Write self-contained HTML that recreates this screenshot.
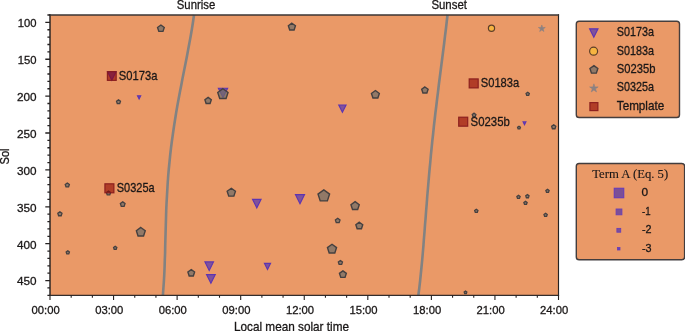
<!DOCTYPE html>
<html lang="en"><head><meta charset="utf-8"><title>Sol vs local mean solar time</title>
<style>html,body{margin:0;padding:0;background:#fff;}body{width:685px;height:331px;overflow:hidden;}</style></head>
<body>
<svg width="685" height="331" viewBox="0 0 685 331" style="display:block">
<rect x="0" y="0" width="685" height="331" fill="#fff"/>
<rect x="50.0" y="15.0" width="508.50" height="280.30" fill="#ea9967"/>
<path d="M194.0,15.0 L193.0,22.0 L191.9,29.0 L190.7,36.0 L189.4,43.0 L188.1,50.0 L186.8,57.0 L185.4,64.0 L184.0,71.0 L182.6,78.0 L181.3,85.0 L179.9,92.0 L178.6,99.0 L177.3,106.0 L176.1,113.0 L175.0,120.0 L173.9,127.0 L172.9,134.0 L171.9,141.0 L171.0,148.0 L170.2,155.0 L169.5,162.0 L168.8,169.0 L168.2,176.0 L167.7,183.0 L167.3,190.0 L166.9,197.0 L166.5,204.0 L166.2,211.0 L166.0,218.0 L165.8,225.0 L165.6,232.0 L165.4,239.0 L165.2,246.0 L165.1,253.0 L164.8,260.0 L164.6,267.0 L164.3,274.0 L163.9,281.0 L163.4,288.0 L162.9,295.0 L162.8,295.3" fill="none" stroke="#828282" stroke-width="2.6" stroke-linejoin="round"/>
<path d="M447.5,15.0 L446.7,22.0 L445.9,29.0 L445.0,36.0 L444.2,43.0 L443.3,50.0 L442.4,57.0 L441.5,64.0 L440.6,71.0 L439.7,78.0 L438.8,85.0 L438.0,92.0 L437.1,99.0 L436.3,106.0 L435.4,113.0 L434.6,120.0 L433.8,127.0 L433.1,134.0 L432.3,141.0 L431.6,148.0 L430.9,155.0 L430.3,162.0 L429.6,169.0 L429.0,176.0 L428.4,183.0 L427.8,190.0 L427.2,197.0 L426.7,204.0 L426.1,211.0 L425.6,218.0 L425.0,225.0 L424.5,232.0 L423.9,239.0 L423.4,246.0 L422.8,253.0 L422.2,260.0 L421.5,267.0 L420.8,274.0 L420.1,281.0 L419.3,288.0 L418.4,295.0 L418.4,295.3" fill="none" stroke="#828282" stroke-width="2.6" stroke-linejoin="round"/>
<polygon points="218.39,88.29 227.61,88.29 223.00,97.51" fill="#80529a" stroke="#5c34b2" stroke-width="1.15" stroke-linejoin="miter"/>
<polygon points="107.60,71.70 116.00,71.70 111.80,80.10" fill="#80529a" stroke="#5c34b2" stroke-width="1.15" stroke-linejoin="miter"/>
<polygon points="160.90,25.01 164.25,27.45 162.97,31.38 158.83,31.38 157.55,27.45" fill="#706c68" fill-opacity="0.72" stroke="#454040" stroke-width="1.4" stroke-linejoin="miter"/>
<polygon points="291.90,23.22 295.45,25.80 294.09,29.97 289.71,29.97 288.35,25.80" fill="#706c68" fill-opacity="0.72" stroke="#454040" stroke-width="1.4" stroke-linejoin="miter"/>
<polygon points="118.50,99.82 120.48,101.26 119.72,103.58 117.28,103.58 116.52,101.26" fill="#706c68" fill-opacity="0.72" stroke="#454040" stroke-width="1.3" stroke-linejoin="miter"/>
<polygon points="208.10,97.35 211.30,99.68 210.08,103.44 206.12,103.44 204.90,99.68" fill="#706c68" fill-opacity="0.72" stroke="#454040" stroke-width="1.4" stroke-linejoin="miter"/>
<polygon points="222.90,88.70 228.05,92.44 226.08,98.50 219.72,98.50 217.75,92.44" fill="#706c68" fill-opacity="0.72" stroke="#454040" stroke-width="1.4" stroke-linejoin="miter"/>
<polygon points="375.40,90.54 379.35,93.41 377.84,98.05 372.96,98.05 371.45,93.41" fill="#706c68" fill-opacity="0.72" stroke="#454040" stroke-width="1.4" stroke-linejoin="miter"/>
<polygon points="424.90,86.95 428.10,89.28 426.88,93.04 422.92,93.04 421.70,89.28" fill="#706c68" fill-opacity="0.72" stroke="#454040" stroke-width="1.4" stroke-linejoin="miter"/>
<polygon points="527.70,92.25 529.33,93.43 528.70,95.34 526.70,95.34 526.07,93.43" fill="#706c68" fill-opacity="0.72" stroke="#454040" stroke-width="1.3" stroke-linejoin="miter"/>
<polygon points="474.10,113.16 475.93,114.49 475.23,116.63 472.97,116.63 472.27,114.49" fill="#706c68" fill-opacity="0.72" stroke="#454040" stroke-width="1.3" stroke-linejoin="miter"/>
<polygon points="519.00,126.24 520.43,127.28 519.88,128.95 518.12,128.95 517.57,127.28" fill="#706c68" fill-opacity="0.72" stroke="#454040" stroke-width="1.3" stroke-linejoin="miter"/>
<polygon points="553.70,124.83 555.78,126.33 554.98,128.77 552.42,128.77 551.62,126.33" fill="#706c68" fill-opacity="0.72" stroke="#454040" stroke-width="1.3" stroke-linejoin="miter"/>
<polygon points="67.30,183.03 69.38,184.53 68.58,186.97 66.02,186.97 65.22,184.53" fill="#706c68" fill-opacity="0.72" stroke="#454040" stroke-width="1.3" stroke-linejoin="miter"/>
<polygon points="108.50,190.93 110.58,192.43 109.78,194.87 107.22,194.87 106.42,192.43" fill="#706c68" fill-opacity="0.72" stroke="#454040" stroke-width="1.3" stroke-linejoin="miter"/>
<polygon points="122.70,201.89 125.03,203.58 124.14,206.31 121.26,206.31 120.37,203.58" fill="#706c68" fill-opacity="0.72" stroke="#454040" stroke-width="1.3" stroke-linejoin="miter"/>
<polygon points="59.90,211.83 61.98,213.33 61.18,215.77 58.62,215.77 57.82,213.33" fill="#706c68" fill-opacity="0.72" stroke="#454040" stroke-width="1.3" stroke-linejoin="miter"/>
<polygon points="140.80,227.47 145.25,230.70 143.55,235.93 138.05,235.93 136.35,230.70" fill="#706c68" fill-opacity="0.72" stroke="#454040" stroke-width="1.4" stroke-linejoin="miter"/>
<polygon points="67.80,250.75 69.43,251.93 68.80,253.84 66.80,253.84 66.17,251.93" fill="#706c68" fill-opacity="0.72" stroke="#454040" stroke-width="1.3" stroke-linejoin="miter"/>
<polygon points="115.20,246.25 116.83,247.43 116.20,249.34 114.20,249.34 113.57,247.43" fill="#706c68" fill-opacity="0.72" stroke="#454040" stroke-width="1.3" stroke-linejoin="miter"/>
<polygon points="191.25,269.61 194.60,272.05 193.32,275.98 189.18,275.98 187.90,272.05" fill="#706c68" fill-opacity="0.72" stroke="#454040" stroke-width="1.4" stroke-linejoin="miter"/>
<polygon points="231.30,188.25 235.45,191.27 233.86,196.14 228.74,196.14 227.15,191.27" fill="#706c68" fill-opacity="0.72" stroke="#454040" stroke-width="1.4" stroke-linejoin="miter"/>
<polygon points="323.80,189.88 329.60,194.09 327.38,200.91 320.22,200.91 318.00,194.09" fill="#706c68" fill-opacity="0.72" stroke="#454040" stroke-width="1.4" stroke-linejoin="miter"/>
<polygon points="355.10,201.65 359.25,204.67 357.66,209.54 352.54,209.54 350.95,204.67" fill="#706c68" fill-opacity="0.72" stroke="#454040" stroke-width="1.4" stroke-linejoin="miter"/>
<polygon points="337.70,218.29 340.03,219.98 339.14,222.71 336.26,222.71 335.37,219.98" fill="#706c68" fill-opacity="0.72" stroke="#454040" stroke-width="1.3" stroke-linejoin="miter"/>
<polygon points="359.30,222.22 362.75,224.72 361.43,228.78 357.17,228.78 355.85,224.72" fill="#706c68" fill-opacity="0.72" stroke="#454040" stroke-width="1.4" stroke-linejoin="miter"/>
<polygon points="332.00,244.27 336.55,247.58 334.81,252.93 329.19,252.93 327.45,247.58" fill="#706c68" fill-opacity="0.72" stroke="#454040" stroke-width="1.4" stroke-linejoin="miter"/>
<polygon points="340.40,260.53 342.48,262.03 341.68,264.47 339.12,264.47 338.32,262.03" fill="#706c68" fill-opacity="0.72" stroke="#454040" stroke-width="1.3" stroke-linejoin="miter"/>
<polygon points="342.90,270.82 346.35,273.32 345.03,277.38 340.77,277.38 339.45,273.32" fill="#706c68" fill-opacity="0.72" stroke="#454040" stroke-width="1.4" stroke-linejoin="miter"/>
<polygon points="465.50,291.14 466.83,292.10 466.32,293.66 464.68,293.66 464.17,292.10" fill="#706c68" fill-opacity="0.72" stroke="#454040" stroke-width="1.3" stroke-linejoin="miter"/>
<polygon points="547.50,189.35 549.13,190.53 548.50,192.44 546.50,192.44 545.87,190.53" fill="#706c68" fill-opacity="0.72" stroke="#454040" stroke-width="1.3" stroke-linejoin="miter"/>
<polygon points="518.50,195.35 520.13,196.53 519.50,198.44 517.50,198.44 516.87,196.53" fill="#706c68" fill-opacity="0.72" stroke="#454040" stroke-width="1.3" stroke-linejoin="miter"/>
<polygon points="527.40,194.65 529.03,195.83 528.40,197.74 526.40,197.74 525.77,195.83" fill="#706c68" fill-opacity="0.72" stroke="#454040" stroke-width="1.3" stroke-linejoin="miter"/>
<polygon points="525.50,201.35 527.13,202.53 526.50,204.44 524.50,204.44 523.87,202.53" fill="#706c68" fill-opacity="0.72" stroke="#454040" stroke-width="1.3" stroke-linejoin="miter"/>
<polygon points="476.30,209.25 477.93,210.43 477.30,212.34 475.30,212.34 474.67,210.43" fill="#706c68" fill-opacity="0.72" stroke="#454040" stroke-width="1.3" stroke-linejoin="miter"/>
<polygon points="545.60,213.25 547.23,214.43 546.60,216.34 544.60,216.34 543.97,214.43" fill="#706c68" fill-opacity="0.72" stroke="#454040" stroke-width="1.3" stroke-linejoin="miter"/>
<polygon points="137.53,95.83 140.67,95.83 139.10,98.97" fill="#80529a" stroke="#5c34b2" stroke-width="1.15" stroke-linejoin="miter"/>
<polygon points="338.75,104.95 346.05,104.95 342.40,112.25" fill="#80529a" stroke="#5c34b2" stroke-width="1.15" stroke-linejoin="miter"/>
<polygon points="523.11,121.91 525.89,121.91 524.50,124.69" fill="#80529a" stroke="#5c34b2" stroke-width="1.15" stroke-linejoin="miter"/>
<polygon points="252.54,199.34 261.06,199.34 256.80,207.86" fill="#80529a" stroke="#5c34b2" stroke-width="1.15" stroke-linejoin="miter"/>
<polygon points="295.48,194.68 304.52,194.68 300.00,203.72" fill="#80529a" stroke="#5c34b2" stroke-width="1.15" stroke-linejoin="miter"/>
<polygon points="204.94,261.94 213.46,261.94 209.20,270.46" fill="#80529a" stroke="#5c34b2" stroke-width="1.15" stroke-linejoin="miter"/>
<polygon points="206.55,274.55 215.25,274.55 210.90,283.25" fill="#80529a" stroke="#5c34b2" stroke-width="1.15" stroke-linejoin="miter"/>
<polygon points="264.45,263.35 270.55,263.35 267.50,269.44" fill="#80529a" stroke="#5c34b2" stroke-width="1.15" stroke-linejoin="miter"/>
<circle cx="491.5" cy="28.3" r="3.1" fill="#f6b441" stroke="#5e3f28" stroke-width="1.2"/>
<polygon points="541.80,24.97 542.61,27.48 545.25,27.48 543.12,29.03 543.93,31.53 541.80,29.99 539.67,31.53 540.48,29.03 538.35,27.48 540.99,27.48" fill="#8b8182" stroke="#8b8182" stroke-width="0.6" stroke-linejoin="miter"/>
<rect x="107.40" y="71.60" width="8.80" height="8.80" fill="#8e0500" fill-opacity="0.62" stroke="#861a1c" stroke-opacity="0.9" stroke-width="1.2"/>
<rect x="469.20" y="78.90" width="9.00" height="9.00" fill="#8e0500" fill-opacity="0.62" stroke="#861a1c" stroke-opacity="0.9" stroke-width="1.2"/>
<rect x="458.70" y="117.20" width="9.00" height="9.00" fill="#8e0500" fill-opacity="0.62" stroke="#861a1c" stroke-opacity="0.9" stroke-width="1.2"/>
<rect x="104.90" y="183.80" width="9.00" height="9.00" fill="#8e0500" fill-opacity="0.62" stroke="#861a1c" stroke-opacity="0.9" stroke-width="1.2"/>
<path d="M50.0,14.35V295.90" stroke="#262222" stroke-width="1.45" fill="none"/>
<path d="M558.5,14.35V295.90" stroke="#262222" stroke-width="1.15" fill="none"/>
<path d="M49.30,15.0H559.05" stroke="#3a3433" stroke-width="1.3" fill="none"/>
<path d="M49.30,295.3H559.05" stroke="#322d2c" stroke-width="1.2" fill="none"/>
<path d="M47.40,15.00H50.00M45.30,22.38H50.00M47.40,29.75H50.00M47.40,37.13H50.00M47.40,44.51H50.00M47.40,51.88H50.00M45.30,59.26H50.00M47.40,66.63H50.00M47.40,74.01H50.00M47.40,81.39H50.00M47.40,88.76H50.00M45.30,96.14H50.00M47.40,103.52H50.00M47.40,110.89H50.00M47.40,118.27H50.00M47.40,125.64H50.00M45.30,133.02H50.00M47.40,140.40H50.00M47.40,147.77H50.00M47.40,155.15H50.00M47.40,162.53H50.00M45.30,169.90H50.00M47.40,177.28H50.00M47.40,184.66H50.00M47.40,192.03H50.00M47.40,199.41H50.00M45.30,206.78H50.00M47.40,214.16H50.00M47.40,221.54H50.00M47.40,228.91H50.00M47.40,236.29H50.00M45.30,243.67H50.00M47.40,251.04H50.00M47.40,258.42H50.00M47.40,265.79H50.00M47.40,273.17H50.00M45.30,280.55H50.00M47.40,287.92H50.00M47.40,295.30H50.00" stroke="#262222" stroke-width="1.3" fill="none"/>
<path d="M50.00,295.30V299.90M71.19,295.30V297.80M92.38,295.30V297.80M113.56,295.30V299.90M134.75,295.30V297.80M155.94,295.30V297.80M177.12,295.30V299.90M198.31,295.30V297.80M219.50,295.30V297.80M240.69,295.30V299.90M261.88,295.30V297.80M283.06,295.30V297.80M304.25,295.30V299.90M325.44,295.30V297.80M346.62,295.30V297.80M367.81,295.30V299.90M389.00,295.30V297.80M410.19,295.30V297.80M431.38,295.30V299.90M452.56,295.30V297.80M473.75,295.30V297.80M494.94,295.30V299.90M516.12,295.30V297.80M537.31,295.30V297.80M558.50,295.30V299.90" stroke="#262222" stroke-width="1.1" fill="none"/>
<text x="17.8" y="27.3" font-size="11.8" font-family="'Liberation Sans', Arial, sans-serif" fill="#1a1717" stroke="#1a1717" stroke-width="0.3" text-anchor="start" textLength="18.8" lengthAdjust="spacingAndGlyphs">100</text>
<text x="17.8" y="64.2" font-size="11.8" font-family="'Liberation Sans', Arial, sans-serif" fill="#1a1717" stroke="#1a1717" stroke-width="0.3" text-anchor="start" textLength="18.8" lengthAdjust="spacingAndGlyphs">150</text>
<text x="16.9" y="101.0" font-size="11.8" font-family="'Liberation Sans', Arial, sans-serif" fill="#1a1717" stroke="#1a1717" stroke-width="0.3" text-anchor="start" textLength="19.6" lengthAdjust="spacingAndGlyphs">200</text>
<text x="16.9" y="137.9" font-size="11.8" font-family="'Liberation Sans', Arial, sans-serif" fill="#1a1717" stroke="#1a1717" stroke-width="0.3" text-anchor="start" textLength="19.6" lengthAdjust="spacingAndGlyphs">250</text>
<text x="16.9" y="174.8" font-size="11.8" font-family="'Liberation Sans', Arial, sans-serif" fill="#1a1717" stroke="#1a1717" stroke-width="0.3" text-anchor="start" textLength="19.6" lengthAdjust="spacingAndGlyphs">300</text>
<text x="16.9" y="211.7" font-size="11.8" font-family="'Liberation Sans', Arial, sans-serif" fill="#1a1717" stroke="#1a1717" stroke-width="0.3" text-anchor="start" textLength="19.6" lengthAdjust="spacingAndGlyphs">350</text>
<text x="16.9" y="248.6" font-size="11.8" font-family="'Liberation Sans', Arial, sans-serif" fill="#1a1717" stroke="#1a1717" stroke-width="0.3" text-anchor="start" textLength="19.6" lengthAdjust="spacingAndGlyphs">400</text>
<text x="16.9" y="285.4" font-size="11.8" font-family="'Liberation Sans', Arial, sans-serif" fill="#1a1717" stroke="#1a1717" stroke-width="0.3" text-anchor="start" textLength="19.6" lengthAdjust="spacingAndGlyphs">450</text>
<text x="31.6" y="313.6" font-size="11.8" font-family="'Liberation Sans', Arial, sans-serif" fill="#1a1717" stroke="#1a1717" stroke-width="0.3" text-anchor="start" textLength="28.2" lengthAdjust="spacingAndGlyphs">00:00</text>
<text x="95.2" y="313.6" font-size="11.8" font-family="'Liberation Sans', Arial, sans-serif" fill="#1a1717" stroke="#1a1717" stroke-width="0.3" text-anchor="start" textLength="28.2" lengthAdjust="spacingAndGlyphs">03:00</text>
<text x="158.7" y="313.6" font-size="11.8" font-family="'Liberation Sans', Arial, sans-serif" fill="#1a1717" stroke="#1a1717" stroke-width="0.3" text-anchor="start" textLength="28.2" lengthAdjust="spacingAndGlyphs">06:00</text>
<text x="222.3" y="313.6" font-size="11.8" font-family="'Liberation Sans', Arial, sans-serif" fill="#1a1717" stroke="#1a1717" stroke-width="0.3" text-anchor="start" textLength="28.2" lengthAdjust="spacingAndGlyphs">09:00</text>
<text x="285.9" y="313.6" font-size="11.8" font-family="'Liberation Sans', Arial, sans-serif" fill="#1a1717" stroke="#1a1717" stroke-width="0.3" text-anchor="start" textLength="28.2" lengthAdjust="spacingAndGlyphs">12:00</text>
<text x="349.4" y="313.6" font-size="11.8" font-family="'Liberation Sans', Arial, sans-serif" fill="#1a1717" stroke="#1a1717" stroke-width="0.3" text-anchor="start" textLength="28.2" lengthAdjust="spacingAndGlyphs">15:00</text>
<text x="413.0" y="313.6" font-size="11.8" font-family="'Liberation Sans', Arial, sans-serif" fill="#1a1717" stroke="#1a1717" stroke-width="0.3" text-anchor="start" textLength="28.2" lengthAdjust="spacingAndGlyphs">18:00</text>
<text x="476.5" y="313.6" font-size="11.8" font-family="'Liberation Sans', Arial, sans-serif" fill="#1a1717" stroke="#1a1717" stroke-width="0.3" text-anchor="start" textLength="28.2" lengthAdjust="spacingAndGlyphs">21:00</text>
<text x="540.1" y="313.6" font-size="11.8" font-family="'Liberation Sans', Arial, sans-serif" fill="#1a1717" stroke="#1a1717" stroke-width="0.3" text-anchor="start" textLength="28.2" lengthAdjust="spacingAndGlyphs">24:00</text>
<text x="234.0" y="330.6" font-size="13.0" font-family="'Liberation Sans', Arial, sans-serif" fill="#1a1717" stroke="#1a1717" stroke-width="0.3" text-anchor="start" textLength="115.0" lengthAdjust="spacingAndGlyphs">Local mean solar time</text>
<text x="176.8" y="8.6" font-size="13.0" font-family="'Liberation Sans', Arial, sans-serif" fill="#1a1717" stroke="#1a1717" stroke-width="0.3" text-anchor="start" textLength="38.4" lengthAdjust="spacingAndGlyphs">Sunrise</text>
<text x="431.4" y="8.6" font-size="13.0" font-family="'Liberation Sans', Arial, sans-serif" fill="#1a1717" stroke="#1a1717" stroke-width="0.3" text-anchor="start" textLength="35.6" lengthAdjust="spacingAndGlyphs">Sunset</text>
<text transform="translate(9.1,164.5) rotate(-90)" font-size="13.0" font-family="'Liberation Sans', Arial, sans-serif" fill="#1a1717" stroke="#1a1717" stroke-width="0.3" textLength="16.0" lengthAdjust="spacingAndGlyphs">Sol</text>
<text x="118.8" y="80.4" font-size="13.2" font-family="'Liberation Sans', Arial, sans-serif" fill="#1a1717" stroke="#1a1717" stroke-width="0.3" text-anchor="start" textLength="38.6" lengthAdjust="spacingAndGlyphs">S0173a</text>
<text x="480.8" y="87.4" font-size="13.2" font-family="'Liberation Sans', Arial, sans-serif" fill="#1a1717" stroke="#1a1717" stroke-width="0.3" text-anchor="start" textLength="38.4" lengthAdjust="spacingAndGlyphs">S0183a</text>
<text x="470.6" y="125.6" font-size="13.2" font-family="'Liberation Sans', Arial, sans-serif" fill="#1a1717" stroke="#1a1717" stroke-width="0.3" text-anchor="start" textLength="39.2" lengthAdjust="spacingAndGlyphs">S0235b</text>
<text x="116.8" y="192.4" font-size="13.2" font-family="'Liberation Sans', Arial, sans-serif" fill="#1a1717" stroke="#1a1717" stroke-width="0.3" text-anchor="start" textLength="37.8" lengthAdjust="spacingAndGlyphs">S0325a</text>
<rect x="576.3" y="21.2" width="103.2" height="96.3" rx="2.8" fill="#ea9967" stroke="#463e3d" stroke-width="1.4"/>
<polygon points="589.62,28.82 597.98,28.82 593.80,37.18" fill="#80529a" stroke="#5c34b2" stroke-width="1.15" stroke-linejoin="miter"/>
<circle cx="593.6" cy="51.2" r="4.0" fill="#f6b441" stroke="#5e3f28" stroke-width="1.2"/>
<polygon points="593.90,65.64 597.85,68.51 596.34,73.15 591.46,73.15 589.95,68.51" fill="#706c68" fill-opacity="0.72" stroke="#454040" stroke-width="1.4" stroke-linejoin="miter"/>
<polygon points="593.90,83.83 594.90,86.92 598.15,86.92 595.52,88.83 596.53,91.92 593.90,90.01 591.27,91.92 592.28,88.83 589.65,86.92 592.90,86.92" fill="#8b8182" stroke="#8b8182" stroke-width="0.6" stroke-linejoin="miter"/>
<rect x="589.90" y="102.60" width="8.00" height="8.00" fill="#8e0500" fill-opacity="0.62" stroke="#861a1c" stroke-opacity="0.9" stroke-width="1.2"/>
<text x="616.8" y="36.2" font-size="12.4" font-family="'Liberation Sans', Arial, sans-serif" fill="#1a1717" stroke="#1a1717" stroke-width="0.3" text-anchor="start" textLength="37.2" lengthAdjust="spacingAndGlyphs">S0173a</text>
<text x="616.8" y="54.6" font-size="12.4" font-family="'Liberation Sans', Arial, sans-serif" fill="#1a1717" stroke="#1a1717" stroke-width="0.3" text-anchor="start" textLength="37.2" lengthAdjust="spacingAndGlyphs">S0183a</text>
<text x="616.8" y="72.9" font-size="12.4" font-family="'Liberation Sans', Arial, sans-serif" fill="#1a1717" stroke="#1a1717" stroke-width="0.3" text-anchor="start" textLength="38.6" lengthAdjust="spacingAndGlyphs">S0235b</text>
<text x="616.8" y="91.2" font-size="12.4" font-family="'Liberation Sans', Arial, sans-serif" fill="#1a1717" stroke="#1a1717" stroke-width="0.3" text-anchor="start" textLength="37.2" lengthAdjust="spacingAndGlyphs">S0325a</text>
<text x="616.8" y="109.6" font-size="12.4" font-family="'Liberation Sans', Arial, sans-serif" fill="#1a1717" stroke="#1a1717" stroke-width="0.3" text-anchor="start" textLength="47.4" lengthAdjust="spacingAndGlyphs">Template</text>
<rect x="576.3" y="163.55" width="108.3" height="96.25" rx="2.8" fill="#ea9967" stroke="#423d3e" stroke-width="1.4"/>
<text x="592.2" y="177.7" font-size="13.0" font-family="'Liberation Serif', 'Times New Roman', serif" fill="#1a1717" stroke="#1a1717" stroke-width="0.12" text-anchor="start" textLength="76" lengthAdjust="spacingAndGlyphs">Term A (Eq. 5)</text>
<rect x="614.30" y="188.30" width="9.40" height="9.40" fill="#7b4f97" fill-opacity="1" stroke="#6a3fb5" stroke-opacity="1" stroke-width="1.2"/>
<rect x="616.10" y="209.00" width="5.80" height="5.80" fill="#7b4f97" fill-opacity="1" stroke="#6a3fb5" stroke-opacity="1" stroke-width="0.9"/>
<rect x="616.90" y="228.40" width="3.80" height="3.80" fill="#7b4f97" fill-opacity="1" stroke="#6a3fb5" stroke-opacity="1" stroke-width="0.9"/>
<rect x="617.40" y="247.40" width="2.60" height="2.60" fill="#6a3fb5" fill-opacity="1" stroke="#6a3fb5" stroke-opacity="1" stroke-width="0.8"/>
<text x="641.6" y="196.3" font-size="11.8" font-family="'Liberation Sans', Arial, sans-serif" fill="#1a1717" stroke="#1a1717" stroke-width="0.3" text-anchor="start" textLength="6.6" lengthAdjust="spacingAndGlyphs">0</text>
<text x="642.0" y="214.8" font-size="11.8" font-family="'Liberation Sans', Arial, sans-serif" fill="#1a1717" stroke="#1a1717" stroke-width="0.3" text-anchor="start" textLength="8.6" lengthAdjust="spacingAndGlyphs">-1</text>
<text x="642.0" y="233.2" font-size="11.8" font-family="'Liberation Sans', Arial, sans-serif" fill="#1a1717" stroke="#1a1717" stroke-width="0.3" text-anchor="start" textLength="9.6" lengthAdjust="spacingAndGlyphs">-2</text>
<text x="642.0" y="251.6" font-size="11.8" font-family="'Liberation Sans', Arial, sans-serif" fill="#1a1717" stroke="#1a1717" stroke-width="0.3" text-anchor="start" textLength="9.6" lengthAdjust="spacingAndGlyphs">-3</text>
</svg>
</body></html>
